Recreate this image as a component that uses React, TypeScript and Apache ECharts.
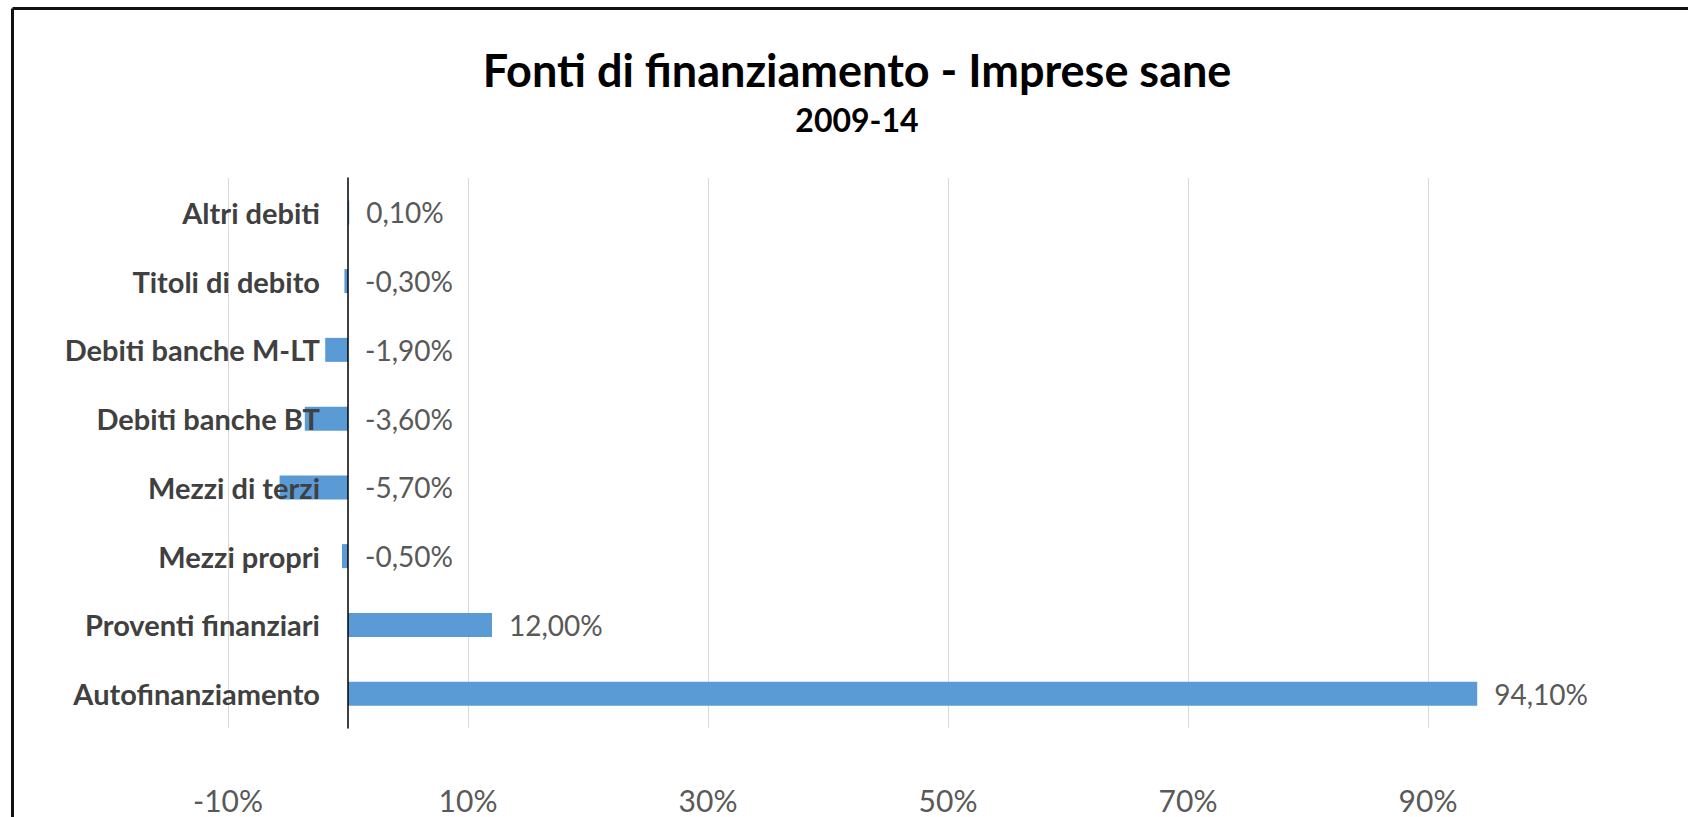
import React, { useEffect, useRef } from "react";
import * as echarts from "echarts";

const categories = [
  "Altri debiti",
  "Titoli di debito",
  "Debiti banche M-LT",
  "Debiti banche BT",
  "Mezzi di terzi",
  "Mezzi propri",
  "Proventi finanziari",
  "Autofinanziamento",
];
const values = [0.1, -0.3, -1.9, -3.6, -5.7, -0.5, 12.0, 94.1];
const titleText = "Fonti di finanziamento - Imprese sane";
const subtitleText = "2009-14";

const FONT = "Lato, 'Noto Sans', sans-serif";

export default function App() {
  const ref = useRef<HTMLDivElement>(null);
  useEffect(() => {
    if (!ref.current) return;
    const chart = echarts.init(ref.current, undefined, { renderer: "svg" });
    chart.setOption({
      animation: false,
      backgroundColor: "#ffffff",
      title: [
        {
          text: titleText,
          left: 852,
          top: 42,
          textAlign: "center",
          textStyle: { fontFamily: FONT, fontWeight: "bold", fontSize: 45, color: "#000000" },
        },
        {
          text: subtitleText,
          left: 852,
          top: 98,
          textAlign: "center",
          textStyle: { fontFamily: FONT, fontWeight: "bold", fontSize: 32, color: "#000000" },
        },
      ],
      grid: {
        left: 228,
        right: 140,
        top: 178,
        bottom: 89,
        containLabel: false,
        outerBoundsMode: "none",
      },
      xAxis: {
        type: "value",
        min: -10,
        max: 100,
        interval: 20,
        axisLine: { show: false },
        axisTick: { show: false },
        splitLine: { show: true, showMaxLine: false, lineStyle: { color: "#d9d9d9", width: 1 } },
        axisLabel: {
          margin: 57,
          showMaxLabel: false,
          color: "#595959",
          fontFamily: FONT,
          fontSize: 30,
          formatter: (v: number) => (v === 100 ? "" : `${v}%`),
        },
      },
      yAxis: {
        type: "category",
        inverse: true,
        data: categories,
        z: 5,
        axisLine: { show: true, onZero: true, lineStyle: { color: "#000000", width: 1.5 } },
        axisTick: { show: false },
        splitLine: { show: false },
        axisLabel: {
          margin: -92,
          color: "#404040",
          fontFamily: FONT,
          fontWeight: "bold",
          fontSize: 29,
        },
      },
      series: [
        {
          type: "bar",
          data: values,
          barWidth: 24,
          z: 2,
          itemStyle: { color: "#5B9BD5" },
          label: {
            show: true,
            position: "right",
            distance: 17,
            color: "#595959",
            fontFamily: FONT,
            fontSize: 28,
            formatter: (p: any) => `${Number(p.value).toFixed(2).replace(".", ",")}%`,
          },
        },
      ],
      graphic: [
        {
          type: "line",
          shape: { x1: 12.5, y1: 8.5, x2: 1688, y2: 8.5 },
          style: { stroke: "#111111", lineWidth: 3 },
          silent: true,
        },
        {
          type: "line",
          shape: { x1: 12.5, y1: 8.5, x2: 12.5, y2: 817 },
          style: { stroke: "#111111", lineWidth: 3 },
          silent: true,
        },
      ],
    });
    return () => chart.dispose();
  }, []);
  return (
    <div
      ref={ref}
      style={{ position: "fixed", left: 0, top: 0, width: 1688, height: 817, background: "#fff" }}
    />
  );
}
